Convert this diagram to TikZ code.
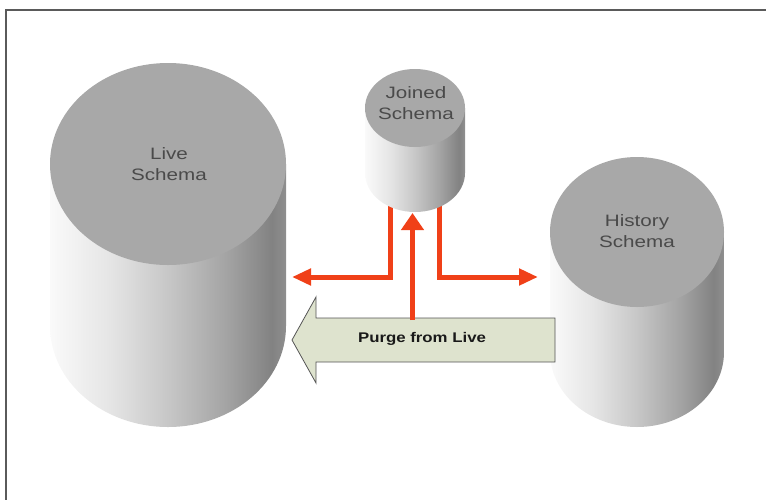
\documentclass[tikz,border=0pt]{standalone}
\usepackage{fontspec}
\setmainfont{Liberation Sans}
\newfontfamily\cylfont[FakeStretch=1.25]{Liberation Sans}
\newfontfamily\purgefont[FakeStretch=1.2]{Liberation Sans}
\usetikzlibrary{arrows.meta}

\definecolor{dbtop}{RGB}{168,168,168}
\definecolor{dbtext}{RGB}{74,74,74}
\definecolor{flowred}{RGB}{240,64,24}
\definecolor{purgefill}{RGB}{222,227,206}
\definecolor{purgeline}{RGB}{85,85,85}
\definecolor{framegray}{RGB}{90,90,90}

% side of a database cylinder: light on the left, darker to the right
\pgfdeclarehorizontalshading{dbside}{100bp}{%
  color(0bp)=(white); color(25bp)=(white!98!black);
  color(37.5bp)=(white!90!black); color(50bp)=(white!78!black);
  color(62.5bp)=(white!64!black); color(72bp)=(white!51!black);
  color(75bp)=(white!56!black); color(100bp)=(white!56!black)}

% #1 centre x, #2 top centre y, #3 x radius, #4 y radius, #5 bottom centre y
\newcommand\dbcylinder[5]{%
  \shade[shading=dbside] (#1-#3,#2) -- (#1-#3,#5)
    arc[start angle=180, end angle=0, x radius=#3, y radius=#4]
    -- (#1+#3,#2) -- cycle;
  \fill[dbtop] (#1,#2) ellipse [x radius=#3, y radius=#4];
}

\tikzset{
  cyltext/.style={align=center, text=dbtext, inner sep=0pt,
    font=\cylfont\fontsize{16.5}{20.5}\selectfont},
  flow/.style={draw=flowred, line width=5pt, line join=miter,
    -{Triangle[length=19pt,width=16pt]}},
  flowup/.style={flow, -{Triangle[length=17pt,width=22pt]}},
  purgearrow/.style={draw=purgeline, fill=purgefill, line width=0.8pt},
}

\begin{document}
\begin{tikzpicture}[x=1pt, y=-1pt]
\useasboundingbox (0,0) rectangle (766,499);

% frame
\draw[framegray, line width=1.6pt] (6,505) -- (6,10) -- (772,10);

% Live and History databases
\dbcylinder{168}{164}{118}{101}{326}
\node[cyltext] (live) at (169,164) {Live\\Schema};

\dbcylinder{637}{232}{87}{75}{352}
\node[cyltext] (history) at (637,231) {History\\Schema};

% purge block arrow
\draw[purgearrow] (292,340) -- (316,297) -- (316,318) -- (555,318)
  -- (555,362) -- (316,362) -- (316,383) -- cycle;
\node[text=black!90, inner sep=0pt,
  font=\purgefont\bfseries\fontsize{14}{16}\selectfont] (purge) at (422,339) {Purge from Live};

% connector end points
\coordinate (joinedL) at (390,200);
\coordinate (joinedR) at (439.5,200);
\coordinate (joinedB) at (412.5,213);
\coordinate (liveE) at (292,277);
\coordinate (historyW) at (538,277);
\coordinate (purgeT) at (412.5,320);

% red flows
\draw[flow] (joinedL) |- (liveE);
\draw[flow] (joinedR) |- (historyW);
\draw[flowup] (purgeT) -- (joinedB);

% Joined database, drawn last so the flows start beneath it
\dbcylinder{415}{108}{50}{39}{173}
\node[cyltext] (joined) at (416,103) {Joined\\Schema};
\end{tikzpicture}
\end{document}
